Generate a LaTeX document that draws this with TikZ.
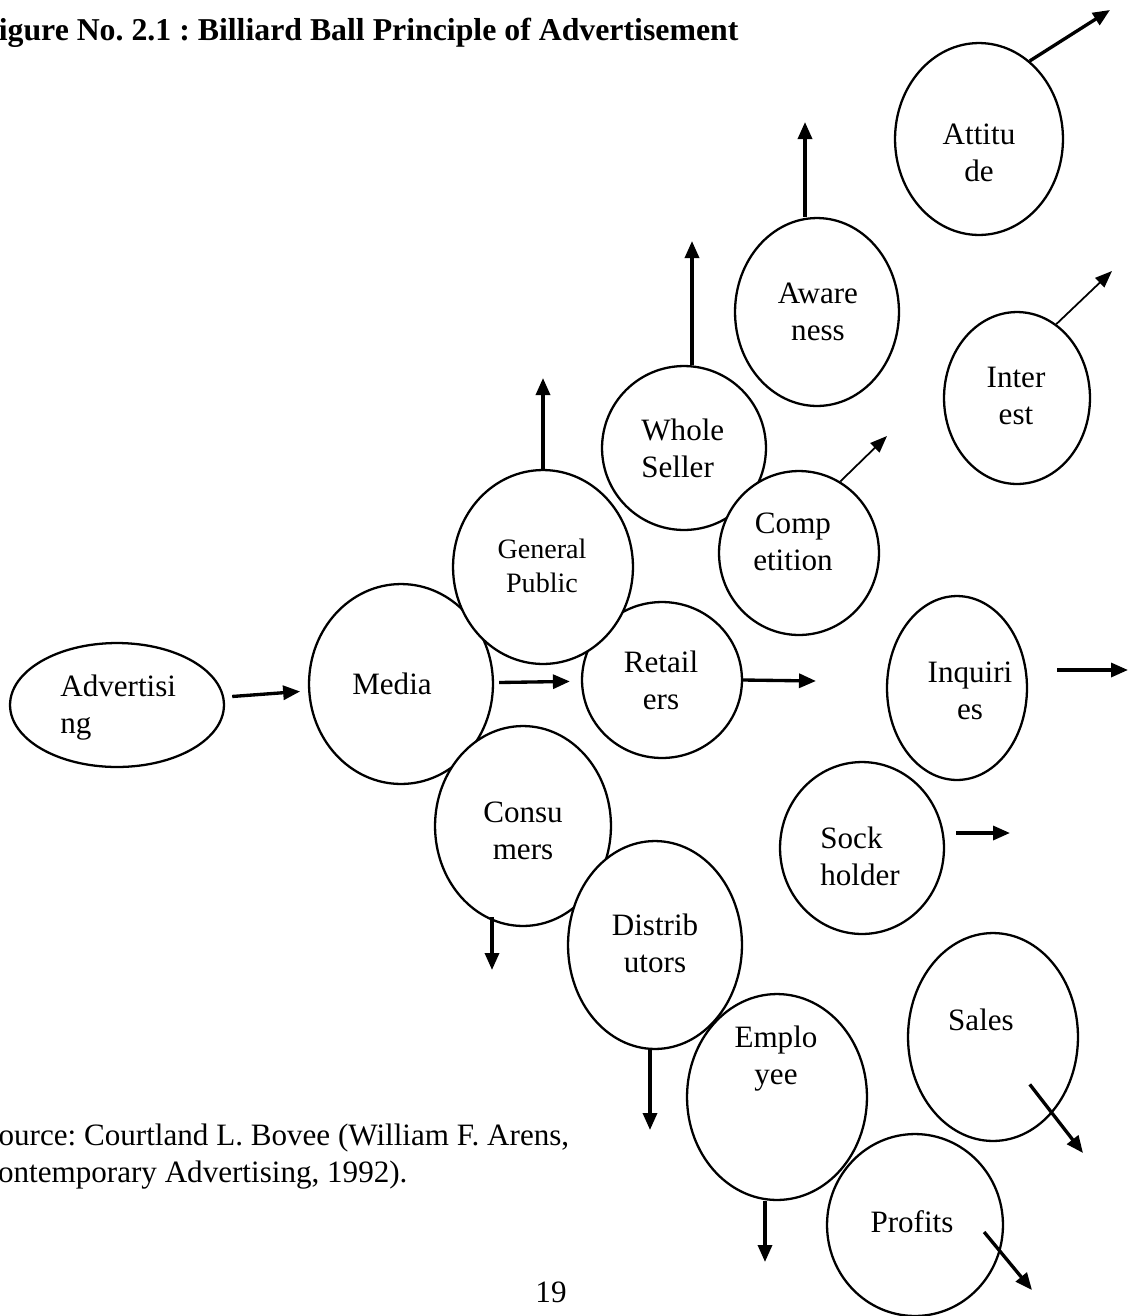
\documentclass[tikz,border=0pt]{standalone}
\usepackage{fontspec}
\setmainfont{Liberation Serif}
\usepackage{tikz}
\usetikzlibrary{shapes.geometric,arrows.meta}

\tikzset{
  ball/.style 2 args={ellipse, draw, fill=white, line width=1.3pt, inner sep=0pt,
    minimum width=#1*0.04cm, minimum height=#2*0.04cm},
  lbl/.style={align=center, inner sep=0pt, font=\fontsize{17.7}{21}\selectfont},
  arr/.style={-{Triangle[length=0.34cm,width=0.28cm]}, line width=1.9pt},
  thinarr/.style={-{Triangle[length=0.34cm,width=0.26cm]}, line width=1pt},
}

\begin{document}
\frenchspacing
\begin{tikzpicture}[x=0.02cm,y=-0.02cm]
\useasboundingbox (0,0) rectangle (1129,1316);

% heading and source
\node[anchor=west, inner sep=0pt, font=\fontsize{18.1}{21}\bfseries] (title) at (-21,33)
  {Figure No. 2.1 : Billiard Ball Principle of Advertisement};
\node[anchor=base west, inner sep=0pt, font=\fontsize{17.7}{21}\selectfont] (src1) at (-19,1145)
  {Source: Courtland L. Bovee (William F. Arens,};
\node[anchor=base west, inner sep=0pt, font=\fontsize{17.7}{21}\selectfont] (src2) at (-23,1182)
  {Contemporary Advertising, 1992).};
\node[lbl] (pageno) at (551,1292) {19};

% balls
\node[ball={107}{62}] (adv) at (117,705) {};
\node[lbl, align=left, anchor=west] (adv-t) at (60,708) {Advertisi\\ng};
\node[ball={92}{100}] (media) at (401,684) {};
\node[lbl] (media-t) at (392,684) {Media};
\node[ball={80}{78}] (ret) at (662,680) {};
\node[lbl] (ret-t) at (661,680) {Retail\\ers};
\node[ball={90}{97}] (gp) at (543,567) {};
\node[lbl, font=\fontsize{16}{19.5}\selectfont] (gp-t) at (542,566) {General\\Public};
\node[ball={88}{100}] (cons) at (523,826) {};
\node[lbl] (cons-t) at (523,831) {Consu\\mers};
\node[ball={82}{82}] (ws) at (684,448) {};
\node[lbl, align=left, anchor=west] (ws-t) at (641,448) {Whole\\Seller};
\node[ball={80}{82}] (comp) at (799,553) {};
\node[lbl] (comp-t) at (793,542) {Comp\\etition};
\node[ball={82}{94}] (aw) at (817,312) {};
\node[lbl] (aw-t) at (818,312) {Aware\\ness};
\node[ball={84}{96}] (att) at (979,139) {};
\node[lbl] (att-t) at (979,153) {Attitu\\de};
\node[ball={73}{86}] (int) at (1017,398) {};
\node[lbl] (int-t) at (1016,396) {Inter\\est};
\node[ball={70}{92}] (inq) at (957,688) {};
\node[lbl] (inq-t) at (970,691) {Inquiri\\es};
\node[ball={82}{86}] (sock) at (862,848) {};
\node[lbl, align=left, anchor=west] (sock-t) at (820,856) {Sock\\holder};
\node[ball={87}{104}] (dist) at (655,945) {};
\node[lbl] (dist-t) at (655,943) {Distrib\\utors};
\node[ball={90}{103}] (emp) at (777,1097) {};
\node[lbl] (emp-t) at (776,1059) {Emplo\\yee};
\node[ball={85}{104}] (sales) at (993,1037) {};
\node[lbl] (sales-t) at (981,1020) {Sales};
\node[ball={88}{91}] (prof) at (915,1225) {};
\node[lbl] (prof-t) at (912,1222) {Profits};

% free ends
\coordinate (gp-out) at (543,378);
\coordinate (ws-out) at (692,241);
\coordinate (aw-out) at (805,122);
\coordinate (att-out) at (1110,10);
\coordinate (int-out) at (1112,271);
\coordinate (comp-out) at (887,436);
\coordinate (ret-out) at (816,681);
\coordinate (inq-out) at (1128,670);
\coordinate (sock-out) at (1010,833);
\coordinate (cons-out) at (492,970);
\coordinate (dist-out) at (650,1130);
\coordinate (emp-out) at (765,1262);
\coordinate (sales-out) at (1083,1153);
\coordinate (prof-out) at (1032,1290);

% arrows
\draw[arr, shorten <=0.16cm, shorten >=0.16cm] (adv) -- (media);
\draw[arr, shorten <=0.1cm, shorten >=0.22cm] (media) -- (ret);
\draw[arr] (ret.east) -- (ret-out);
\draw[arr] (gp.north) -- (gp-out);
\draw[arr] (ws.north -| ws-out) -- (ws-out);
\draw[arr] (aw.north -| aw-out) -- (aw-out);
\draw[arr] (att.57) -- (att-out);
\draw[thinarr] (int.62) -- (int-out);
\draw[thinarr] (comp.60) -- (comp-out);
\draw[arr, shorten <=0.58cm] (inq.east |- inq-out) -- (inq-out);
\draw[arr, shorten <=0.22cm] (sock.east |- sock-out) -- (sock-out);
\draw[arr, shorten <=-0.2cm] (cons.south -| cons-out) -- (cons-out);
\draw[arr] (dist.south -| dist-out) -- (dist-out);
\draw[arr] (emp.south -| emp-out) -- (emp-out);
\draw[arr, shorten <=1.2cm] (sales.center) -- (sales-out);
\draw[arr] ([shift={(-20,7)}]prof.east) -- (prof-out);
\end{tikzpicture}
\end{document}
